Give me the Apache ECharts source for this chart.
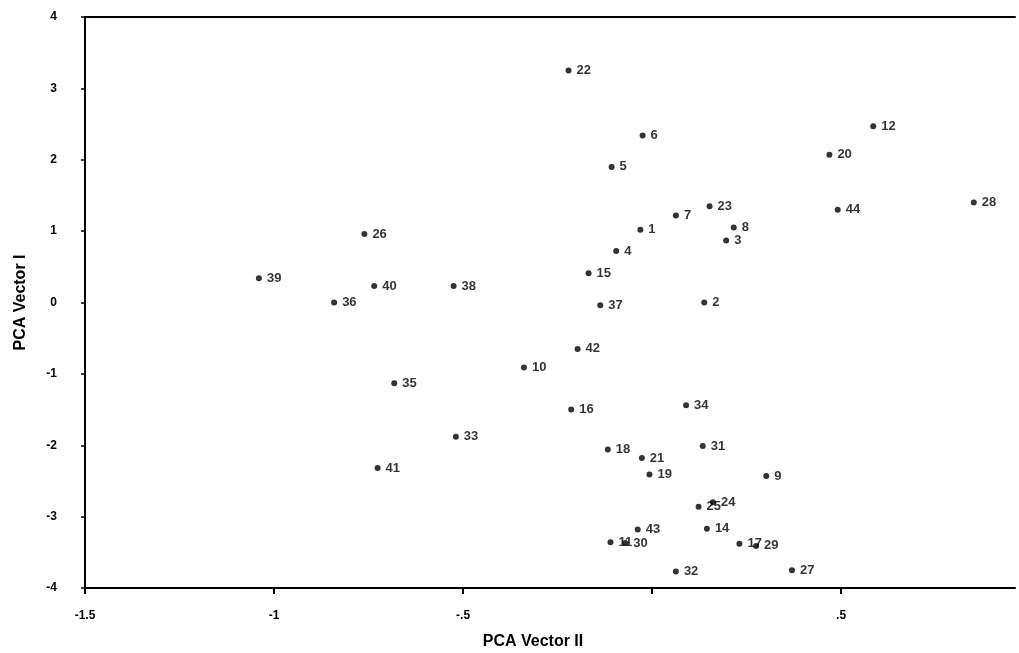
<!DOCTYPE html>
<html>
<head>
<meta charset="utf-8">
<script src="https://cdn.jsdelivr.net/npm/echarts@6/dist/echarts.min.js"></script>
<style>
  html, body { margin: 0; padding: 0; background: #fff; }
  #pca { width: 1019px; height: 653px; }
</style>
</head>
<body>
<div id="pca"></div>
<script>
// sample numbers and their PCA scores (x = vector II, y = vector I)
var pointIds = [1, 2, 3, 4, 5, 6, 7, 8, 9, 10, 11, 12, 14, 15, 16, 17, 18, 19, 20, 21, 22,
  23, 24, 25, 26, 27, 28, 29, 30, 31, 32, 33, 34, 35, 36, 37, 38, 39, 40, 41, 42, 43, 44];
var vectorII = [-0.031, 0.138, 0.196, -0.095, -0.107, -0.025, 0.063, 0.216, 0.302, -0.339, -0.110,
  0.585, 0.145, -0.168, -0.214, 0.231, -0.117, -0.007, 0.469, -0.027, -0.221,
  0.152, 0.161, 0.123, -0.761, 0.370, 0.851, 0.275, -0.071, 0.134, 0.063, -0.519,
  0.090, -0.682, -0.841, -0.137, -0.525, -1.040, -0.735, -0.726, -0.197, -0.038, 0.491];
var vectorI = [1.02, 0.00, 0.87, 0.72, 1.90, 2.34, 1.22, 1.05, -2.43, -0.91, -3.36,
  2.47, -3.17, 0.41, -1.50, -3.38, -2.06, -2.41, 2.07, -2.18, 3.25,
  1.35, -2.80, -2.86, 0.96, -3.75, 1.40, -3.41, -3.37, -2.01, -3.77, -1.88,
  -1.44, -1.13, 0.00, -0.04, 0.23, 0.34, 0.23, -2.32, -0.65, -3.18, 1.30];

var font = '"Liberation Sans Narrow", "Liberation Sans", Arial, sans-serif';

var points = pointIds.map(function (id, i) {
  return { name: String(id), value: [vectorII[i], vectorI[i]] };
});

// old-style labels: no leading zero, 0 left blank on the x axis
function shortNum(v) {
  if (v === 0) return '';
  var s = String(v);
  return s.replace(/^0\./, '.').replace(/^-0\./, '-.');
}

var myChart = echarts.init(document.getElementById('pca'));
var option = {
  animation: false,
  grid: {
    left: 85,
    right: 4,
    top: 17,
    bottom: 65,
    outerBoundsMode: 'none'
  },
  xAxis: [
    {
      type: 'value',
      position: 'bottom',
      min: -1.5,
      max: 0.96,
      interval: 0.5,
      name: 'PCA Vector II',
      nameLocation: 'middle',
      nameGap: 46,
      nameTextStyle: {
        color: '#000',
        fontFamily: font,
        fontWeight: 'bold',
        fontSize: 16,
        padding: [0, 34, 0, 0]
      },
      axisLine: { onZero: false, lineStyle: { color: '#000', width: 2 } },
      axisTick: { show: true, length: 6, lineStyle: { color: '#000', width: 2 } },
      axisLabel: {
        color: '#000',
        fontFamily: font,
        fontWeight: 'bold',
        fontSize: 12,
        margin: 22,
        showMaxLabel: false,
        formatter: shortNum
      },
      splitLine: { show: false }
    },
    {
      // top frame line only
      type: 'value',
      position: 'top',
      min: -1.5,
      max: 0.96,
      axisLine: { onZero: false, lineStyle: { color: '#000', width: 2 } },
      axisTick: { show: false },
      axisLabel: { show: false },
      splitLine: { show: false }
    }
  ],
  yAxis: {
    type: 'value',
    min: -4,
    max: 4,
    interval: 1,
    name: 'PCA Vector I',
    nameLocation: 'middle',
    nameGap: 56,
    nameTextStyle: {
      color: '#000',
      fontFamily: font,
      fontWeight: 'bold',
      fontSize: 16
    },
    axisLine: { onZero: false, lineStyle: { color: '#000', width: 2 } },
    axisTick: { show: true, length: 4, lineStyle: { color: '#000', width: 1.5 } },
    axisLabel: {
      color: '#000',
      fontFamily: font,
      fontWeight: 'bold',
      fontSize: 12,
      margin: 28,
      formatter: function (v) { return String(v); }
    },
    splitLine: { show: false }
  },
  series: [
    {
      type: 'scatter',
      xAxisIndex: 0,
      symbol: 'circle',
      symbolSize: 6,
      itemStyle: { color: '#000' },
      label: {
        show: true,
        position: 'right',
        distance: 5,
        formatter: '{b}',
        color: '#000',
        fontFamily: font,
        fontWeight: 'bold',
        fontSize: 13
      },
      data: points
    }
  ]
};

option && myChart.setOption(option);
</script>
</body>
</html>
